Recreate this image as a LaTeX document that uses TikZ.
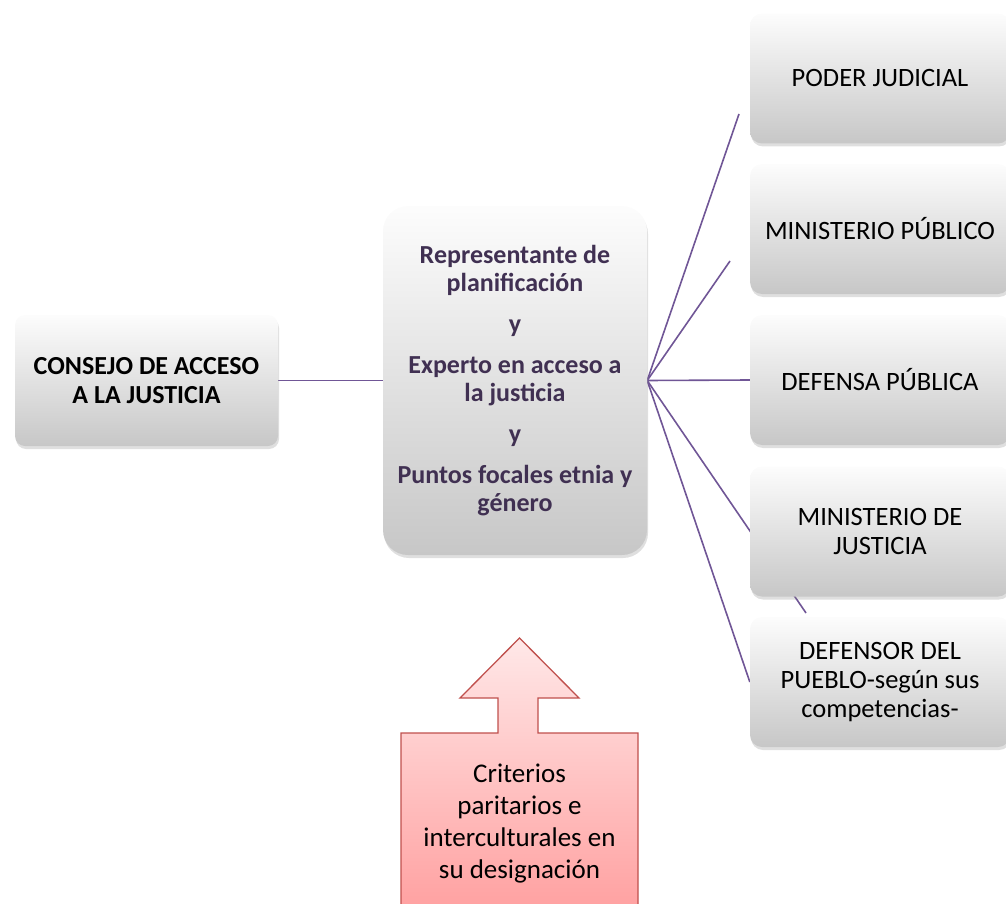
\documentclass[tikz,border=0pt]{standalone}
\usepackage{fontspec}
\setmainfont{Carlito}
\usetikzlibrary{shadows}
\pgfdeclarelayer{background}
\pgfsetlayers{background,main}
\definecolor{linkpurple}{RGB}{112,86,150}
\definecolor{midtext}{RGB}{64,48,82}
\definecolor{arrowline}{RGB}{192,80,77}
\definecolor{arrowtop}{RGB}{255,232,232}
\definecolor{arrowbot}{RGB}{255,158,158}

\begin{document}
\begin{tikzpicture}[x=1pt,y=-1pt,
  box/.style={rounded corners=12pt,top color=black!1,bottom color=black!22,
    drop shadow={shadow xshift=1pt,shadow yshift=-3pt,opacity=0.25},
    align=center,inner sep=0pt,minimum width=260pt,minimum height=130pt,
    font=\fontsize{26.5}{29}\selectfont},
  link/.style={draw=linkpurple,line width=1.6pt}]
  \useasboundingbox (0,0) rectangle (1006,904);

  \node[box,rounded corners=10pt,minimum width=263pt,minimum height=131pt,
        font=\fontsize{26}{29}\selectfont\bfseries] (consejo) at (146.5,380.5)
        {CONSEJO DE ACCESO\\A LA JUSTICIA};
  \node[box,rounded corners=25pt,minimum width=264pt,minimum height=349pt,
        font=\fontsize{26}{28}\selectfont\bfseries,text=midtext] (mid) at (515,380.5)
        {Representante de\\planificación\\[13pt]y\\[13pt]Experto en acceso a\\la justicia\\[13pt]y\\[13pt]Puntos focales etnia y\\género};

  \node[box] (poder)    at (880,78.5) {PODER JUDICIAL};
  \node[box] (mpublico) at (880,229)  {MINISTERIO PÚBLICO};
  \node[box] (defensa)  at (880,380)  {DEFENSA PÚBLICA};
  \node[box] (justicia) at (880,531.5) {MINISTERIO DE\\JUSTICIA};
  \node[box] (defensor) at (880,682)  {DEFENSOR DEL\\PUEBLO-según sus\\competencias-};

  \coordinate (poderend) at (739,114);
  \coordinate (mpend) at (730,261);
  \coordinate (justend) at (806,613);

  \begin{pgfonlayer}{background}
    \draw[link] (consejo.east) -- (mid.west);
    \draw[link] (mid.east) -- (poderend);
    \draw[link] (mid.east) -- (mpend);
    \draw[link] (mid.east) -- (defensa.west);
    \draw[link] (mid.east) -- (justend);
    \draw[link] (mid.east) -- (defensor.west);
  \end{pgfonlayer}

  \draw[draw=arrowline,line width=1.3pt,top color=arrowtop,bottom color=arrowbot]
    (519.5,638) -- (579,698) -- (538,698) -- (538,733) -- (638,733) -- (638,920)
    -- (401,920) -- (401,733) -- (498,733) -- (498,698) -- (460,698) -- cycle;
  \node[align=center,font=\fontsize{27}{32}\selectfont] (criterios) at (519.5,823.5)
    {Criterios\\paritarios e\\interculturales en\\su designación};
\end{tikzpicture}
\end{document}
